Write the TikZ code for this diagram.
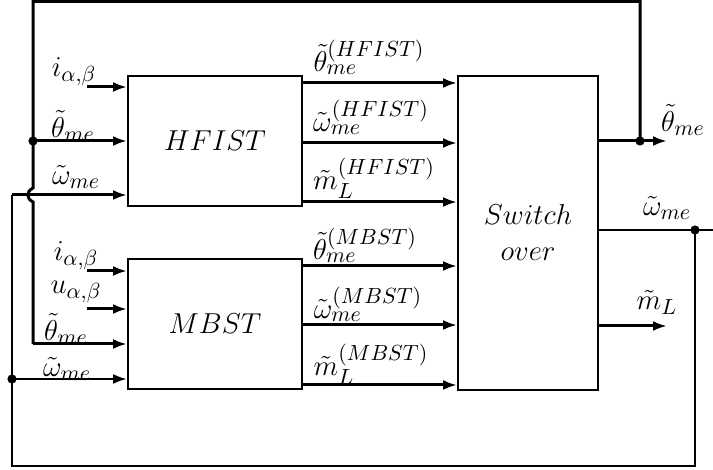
\documentclass[tikz,border=0pt]{standalone}
\usetikzlibrary{arrows.meta}
\begin{document}
\begin{tikzpicture}[x=0.5pt,y=-0.5pt,
  every node/.style={font=\fontsize{15}{18}\selectfont},
  blk/.style={draw,line width=1pt,minimum width=87pt,minimum height=65pt,inner sep=0pt},
  arr/.style={line width=1.5pt,-{Latex[length=7pt,width=5pt]}},
  fb/.style={line width=1.5pt},
  fbw/.style={line width=1.1pt},
  lbl/.style={inner sep=0pt},
  dot/.style={circle,fill,inner sep=0pt,minimum size=4.6pt}]
\useasboundingbox (0,0) rectangle (713,470);
% blocks
\node[blk] (H) at (215,141) {$HFIST$};
\node[blk] (M) at (215,324) {$MBST$};
\node[blk,minimum width=70pt,minimum height=157pt,align=center] (S) at (528,233) {$Switch$\\$over$};
% HFIST inputs
\coordinate (iH) at (87,87);
\draw[arr] (iH) -- (iH -| H.west);
% MBST inputs
\coordinate (iM) at (87,271);
\coordinate (uM) at (87,309);
\draw[arr] (iM) -- (iM -| M.west);
\draw[arr] (uM) -- (uM -| M.west);
% theta feedback
\coordinate (tS) at (640,141);
\coordinate (tL) at (33,141);
\coordinate (tTopR) at (640,1.5);
\coordinate (tTopL) at (33,1.5);
\coordinate (tM) at (33,344);
\coordinate (tOut) at (667,141);
\draw[arr] (S.east |- tS) -- (tOut);
\draw[fb] (tS) -- (tTopR) -- (tTopL) -- (33,188) .. controls (26,192) and (26,198) .. (33,202) -- (tM);
\draw[arr] (tM) -- (tM -| M.west);
\draw[arr] (tL) -- (tL -| H.west);
\node[dot] (d1) at (tS) {};
\node[dot] (d2) at (tL) {};
% omega feedback
\coordinate (wS) at (695,230);
\coordinate (wR) at (713,230);
\coordinate (wB) at (695,466);
\coordinate (wBL) at (12,466);
\coordinate (wH) at (12,195);
\coordinate (wM) at (12,379);
\draw[fbw] (S.east |- wS) -- (wR);
\draw[fbw] (wS) -- (wB) -- (wBL) -- (wH);
\draw[arr] (wH) -- (wH -| H.west);
\draw[arr,line width=1.2pt] (wM) -- (wM -| M.west);
\node[dot] (d3) at (wS) {};
\node[dot] (d4) at (wM) {};
% HFIST -> switch
\foreach \yy in {83,143,202} {\draw[arr] (H.east |- 0,\yy) -- (S.west |- 0,\yy);}
\foreach \yy in {266,325,385} {\draw[arr] (M.east |- 0,\yy) -- (S.west |- 0,\yy);}
% m_L out
\coordinate (mOut) at (667,326);
\draw[arr] (S.east |- mOut) -- (mOut);
% labels
\node[lbl] (l1) at (74,72) {$i_{\alpha,\beta}$};
\node[lbl] (l2) at (73,126) {$\tilde\theta_{me}$};
\node[lbl] (l3) at (76,177) {$\tilde\omega_{me}$};
\node[lbl] (l4) at (76,256) {$i_{\alpha,\beta}$};
\node[lbl] (l5) at (76,292) {$u_{\alpha,\beta}$};
\node[lbl] (l6) at (66,329) {$\tilde\theta_{me}$};
\node[lbl] (l7) at (67,369) {$\tilde\omega_{me}$};
\node[lbl] (l8) at (369,57) {$\tilde\theta_{me}^{(HFIST)}$};
\node[lbl] (l9) at (371,117) {$\tilde\omega_{me}^{(HFIST)}$};
\node[lbl] (l10) at (374,178) {$\tilde m_L^{(HFIST)}$};
\node[lbl] (l11) at (365,245) {$\tilde\theta_{me}^{(MBST)}$};
\node[lbl] (l12) at (368,304) {$\tilde\omega_{me}^{(MBST)}$};
\node[lbl] (l13) at (371,364) {$\tilde m_L^{(MBST)}$};
\node[lbl] (l14) at (683,120) {$\tilde\theta_{me}$};
\node[lbl] (l15) at (667,208) {$\tilde\omega_{me}$};
\node[lbl] (l16) at (657,302) {$\tilde m_L$};
\end{tikzpicture}
\end{document}
